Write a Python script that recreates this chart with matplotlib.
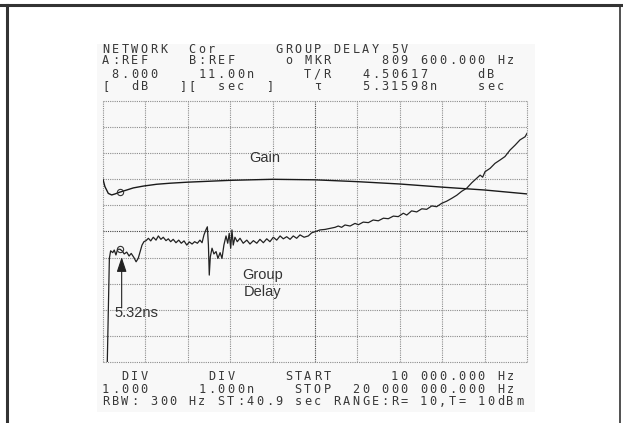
import numpy as np
import matplotlib
matplotlib.use("Agg")
import matplotlib.pyplot as plt
from matplotlib.lines import Line2D
from matplotlib.patches import Rectangle

# ---------- data ----------
# sweep: 10 kHz .. 20 MHz, values in MHz
f_start, f_stop = 0.01, 20.0

# gain trace (dB), ref 8.000 dB at top, 1 dB/div
gain_f = [0.01, 0.10, 0.26, 0.42, 0.58, 0.81, 1.13, 1.44, 1.91, 2.54, 3.17,
          4.0, 6.0, 8.0, 10.0, 12.0, 14.0, 16.0, 18.0, 20.0]
gain_db = [5.00, 4.72, 4.46, 4.40, 4.44, 4.51, 4.59, 4.67, 4.74, 4.81, 4.85,
           4.89, 4.96, 5.00, 4.98, 4.91, 4.82, 4.70, 4.59, 4.44]

# group delay trace (ns), ref 11.00n at top, 1 ns/div
delay_f = [0.20, 0.31, 0.37, 0.47, 0.54, 0.62, 0.70, 0.81, 0.91, 1.01, 1.13, 1.24,
           1.34, 1.47, 1.57, 1.67, 1.75, 1.85, 1.94, 2.04, 2.15, 2.26, 2.38, 2.51,
           2.62, 2.74, 2.85, 2.98, 3.09, 3.20, 3.32, 3.45, 3.58, 3.70, 3.83, 3.96,
           4.08, 4.21, 4.33, 4.46, 4.58, 4.68, 4.77, 4.87, 4.93, 4.98, 5.02, 5.07,
           5.15, 5.24, 5.34, 5.43, 5.53, 5.62, 5.71, 5.81, 5.89, 5.96, 6.03, 6.09,
           6.15, 6.23, 6.34, 6.47, 6.62, 6.79, 6.94, 7.10, 7.26, 7.41, 7.57, 7.73,
           7.88, 8.04, 8.20, 8.36, 8.51, 8.67, 8.83, 8.98, 9.14, 9.30, 9.49, 9.69,
           9.85, 10.00, 10.24, 10.48, 10.71, 10.95, 11.10, 11.26, 11.42, 11.66,
           11.89, 12.05, 12.28, 12.52, 12.75, 12.99, 13.23, 13.46, 13.70, 13.93,
           14.17, 14.33, 14.56, 14.80, 15.04, 15.27, 15.51, 15.74, 15.98, 16.21,
           16.45, 16.69, 16.92, 17.16, 17.40, 17.63, 17.79, 17.91, 18.02, 18.26,
           18.49, 18.73, 18.96, 19.20, 19.44, 19.67, 19.91, 20.00]
delay_ns = [0.5, 4.97, 5.26, 5.19, 5.29, 5.10, 5.32, 5.32, 5.26, 5.14, 5.21, 5.06,
            5.16, 5.00, 4.84, 4.97, 5.19, 5.48, 5.61, 5.65, 5.74, 5.64, 5.78, 5.67,
            5.83, 5.70, 5.78, 5.65, 5.72, 5.61, 5.70, 5.57, 5.67, 5.55, 5.64, 5.48,
            5.60, 5.52, 5.61, 5.55, 5.67, 5.57, 5.87, 6.08, 6.18, 5.48, 4.33, 5.03,
            5.36, 5.14, 5.23, 4.97, 5.19, 4.97, 5.48, 5.83, 5.55, 5.93, 5.36, 6.06,
            5.48, 5.78, 5.61, 5.74, 5.55, 5.67, 5.52, 5.65, 5.55, 5.70, 5.57, 5.72,
            5.61, 5.78, 5.67, 5.83, 5.72, 5.80, 5.70, 5.83, 5.74, 5.87, 5.78, 5.83,
            5.95, 5.99, 6.06, 6.08, 6.12, 6.16, 6.21, 6.16, 6.25, 6.21, 6.31,
            6.26, 6.36, 6.34, 6.44, 6.41, 6.51, 6.49, 6.59, 6.57, 6.70, 6.63,
            6.79, 6.75, 6.87, 6.85, 6.98, 6.95, 7.08, 7.16, 7.27, 7.39, 7.54,
            7.66, 7.87, 8.04, 8.16, 8.08, 8.29, 8.42, 8.61, 8.74, 8.87, 9.12,
            9.31, 9.51, 9.63, 9.76]

# marker
mkr_f = 0.8096
mkr_gain = 4.50617
mkr_delay = 5.31598

# screen text (monospace layout)
header_lines = [
    "NETWORK  Cor      GROUP DELAY 5V",
    "A:REF    B:REF     o MKR     809 600.000 Hz",
    " 8.000    11.00n     T/R   4.50617     dB",
    "[  dB   ][  sec  ]    τ    5.31598n    sec",
]
footer_lines = [
    "  DIV      DIV     START      10 000.000 Hz",
    "1.000     1.000n    STOP  20 000 000.000 Hz",
    "RBW: 300 Hz ST:40.9 sec RANGE:R= 10,T= 10dBm",
]

W, H = 623, 423
def fx(x):
    return x / W
def fy(y):
    return 1 - y / H

fig = plt.figure(figsize=(W / 100, H / 100), dpi=100)
fig.patch.set_facecolor("white")

# screen background
fig.add_artist(Rectangle((fx(97), fy(412)), fx(535) - fx(97), fy(44) - fy(412),
                         transform=fig.transFigure, facecolor="#f8f8f8",
                         edgecolor="none", zorder=0))

# page frame
fig.add_artist(Line2D([0, fx(621)], [fy(5), fy(5)], color="#333333", lw=2.2))
fig.add_artist(Line2D([fx(7), fx(7)], [fy(5), 0], color="#333333", lw=2.2))
fig.add_artist(Line2D([fx(620), fx(620)], [fy(5), 0], color="#333333", lw=1.2))

ax = fig.add_axes([fx(103), fy(362), fx(527) - fx(103), fy(101) - fy(362)])
ax.set_facecolor("none")
ax.set_xlim(f_start, f_stop)
ax.set_ylim(1, 11)
for s in ax.spines.values():
    s.set_visible(False)
ax.set_xticks([])
ax.set_yticks([])

# graticule 10 x 10
xs = np.linspace(f_start, f_stop, 11)
ys = np.linspace(1, 11, 11)
for i, x in enumerate(xs):
    c = "#444444" if i == 5 else "#8c8c8c"
    ax.axvline(x, color=c, lw=0.8, ls=(0, (1, 1)), clip_on=False, zorder=1)
for i, y in enumerate(ys):
    c = "#444444" if i == 5 else "#8c8c8c"
    ax.axhline(y, color=c, lw=0.8, ls=(0, (1, 1)), clip_on=False, zorder=1)

ax_g = ax.twinx()
ax_g.set_ylim(-2, 8)
ax_g.set_xlim(f_start, f_stop)
for s in ax_g.spines.values():
    s.set_visible(False)
ax_g.set_yticks([])

ax_g.plot(gain_f, gain_db, color="#1a1a1a", lw=1.0, zorder=3)
ax_g.plot([mkr_f], [mkr_gain], marker="o", ms=4.5, mfc="none", mec="#333333",
          mew=0.8, ls="none", zorder=4)
ax.plot(delay_f, delay_ns, color="#222222", lw=0.9, zorder=3)
ax.plot([mkr_f], [mkr_delay], marker="o", ms=4.5, mfc="none", mec="#333333",
        mew=0.8, ls="none", zorder=4)

# labels
lab = dict(family="Liberation Sans", fontsize=10.5, color="#333333")
ax.text(7.65, 8.82, "Gain", ha="center", va="center", **lab)
ax.text(7.55, 4.33, "Group", ha="center", va="center", **lab)
ax.text(7.55, 3.68, "Delay", ha="center", va="center", **lab)
ax.text(0.55, 2.88, "5.32ns", ha="left", va="center", **lab)
ax.annotate("", xy=(0.89, 5.02), xytext=(0.89, 3.07),
            arrowprops=dict(arrowstyle="-|>,head_length=0.9,head_width=0.3",
                            color="#222222", lw=0.8, shrinkA=0, shrinkB=0))

# screen text, one character per cell
PITCH = 9.63
X0 = 102
def screen_line(text, y):
    for i, ch in enumerate(text):
        if ch == " ":
            continue
        fig.text(fx(X0 + i * PITCH), fy(y), ch, ha="left", va="center",
                 family="DejaVu Sans Mono", fontsize=8.6, color="#383838")

for txt, y in zip(header_lines, [49.5, 61, 74, 87]):
    screen_line(txt, y)
for txt, y in zip(footer_lines, [377, 389.5, 401.5]):
    screen_line(txt, y)

fig.savefig("out.png", dpi=100)
